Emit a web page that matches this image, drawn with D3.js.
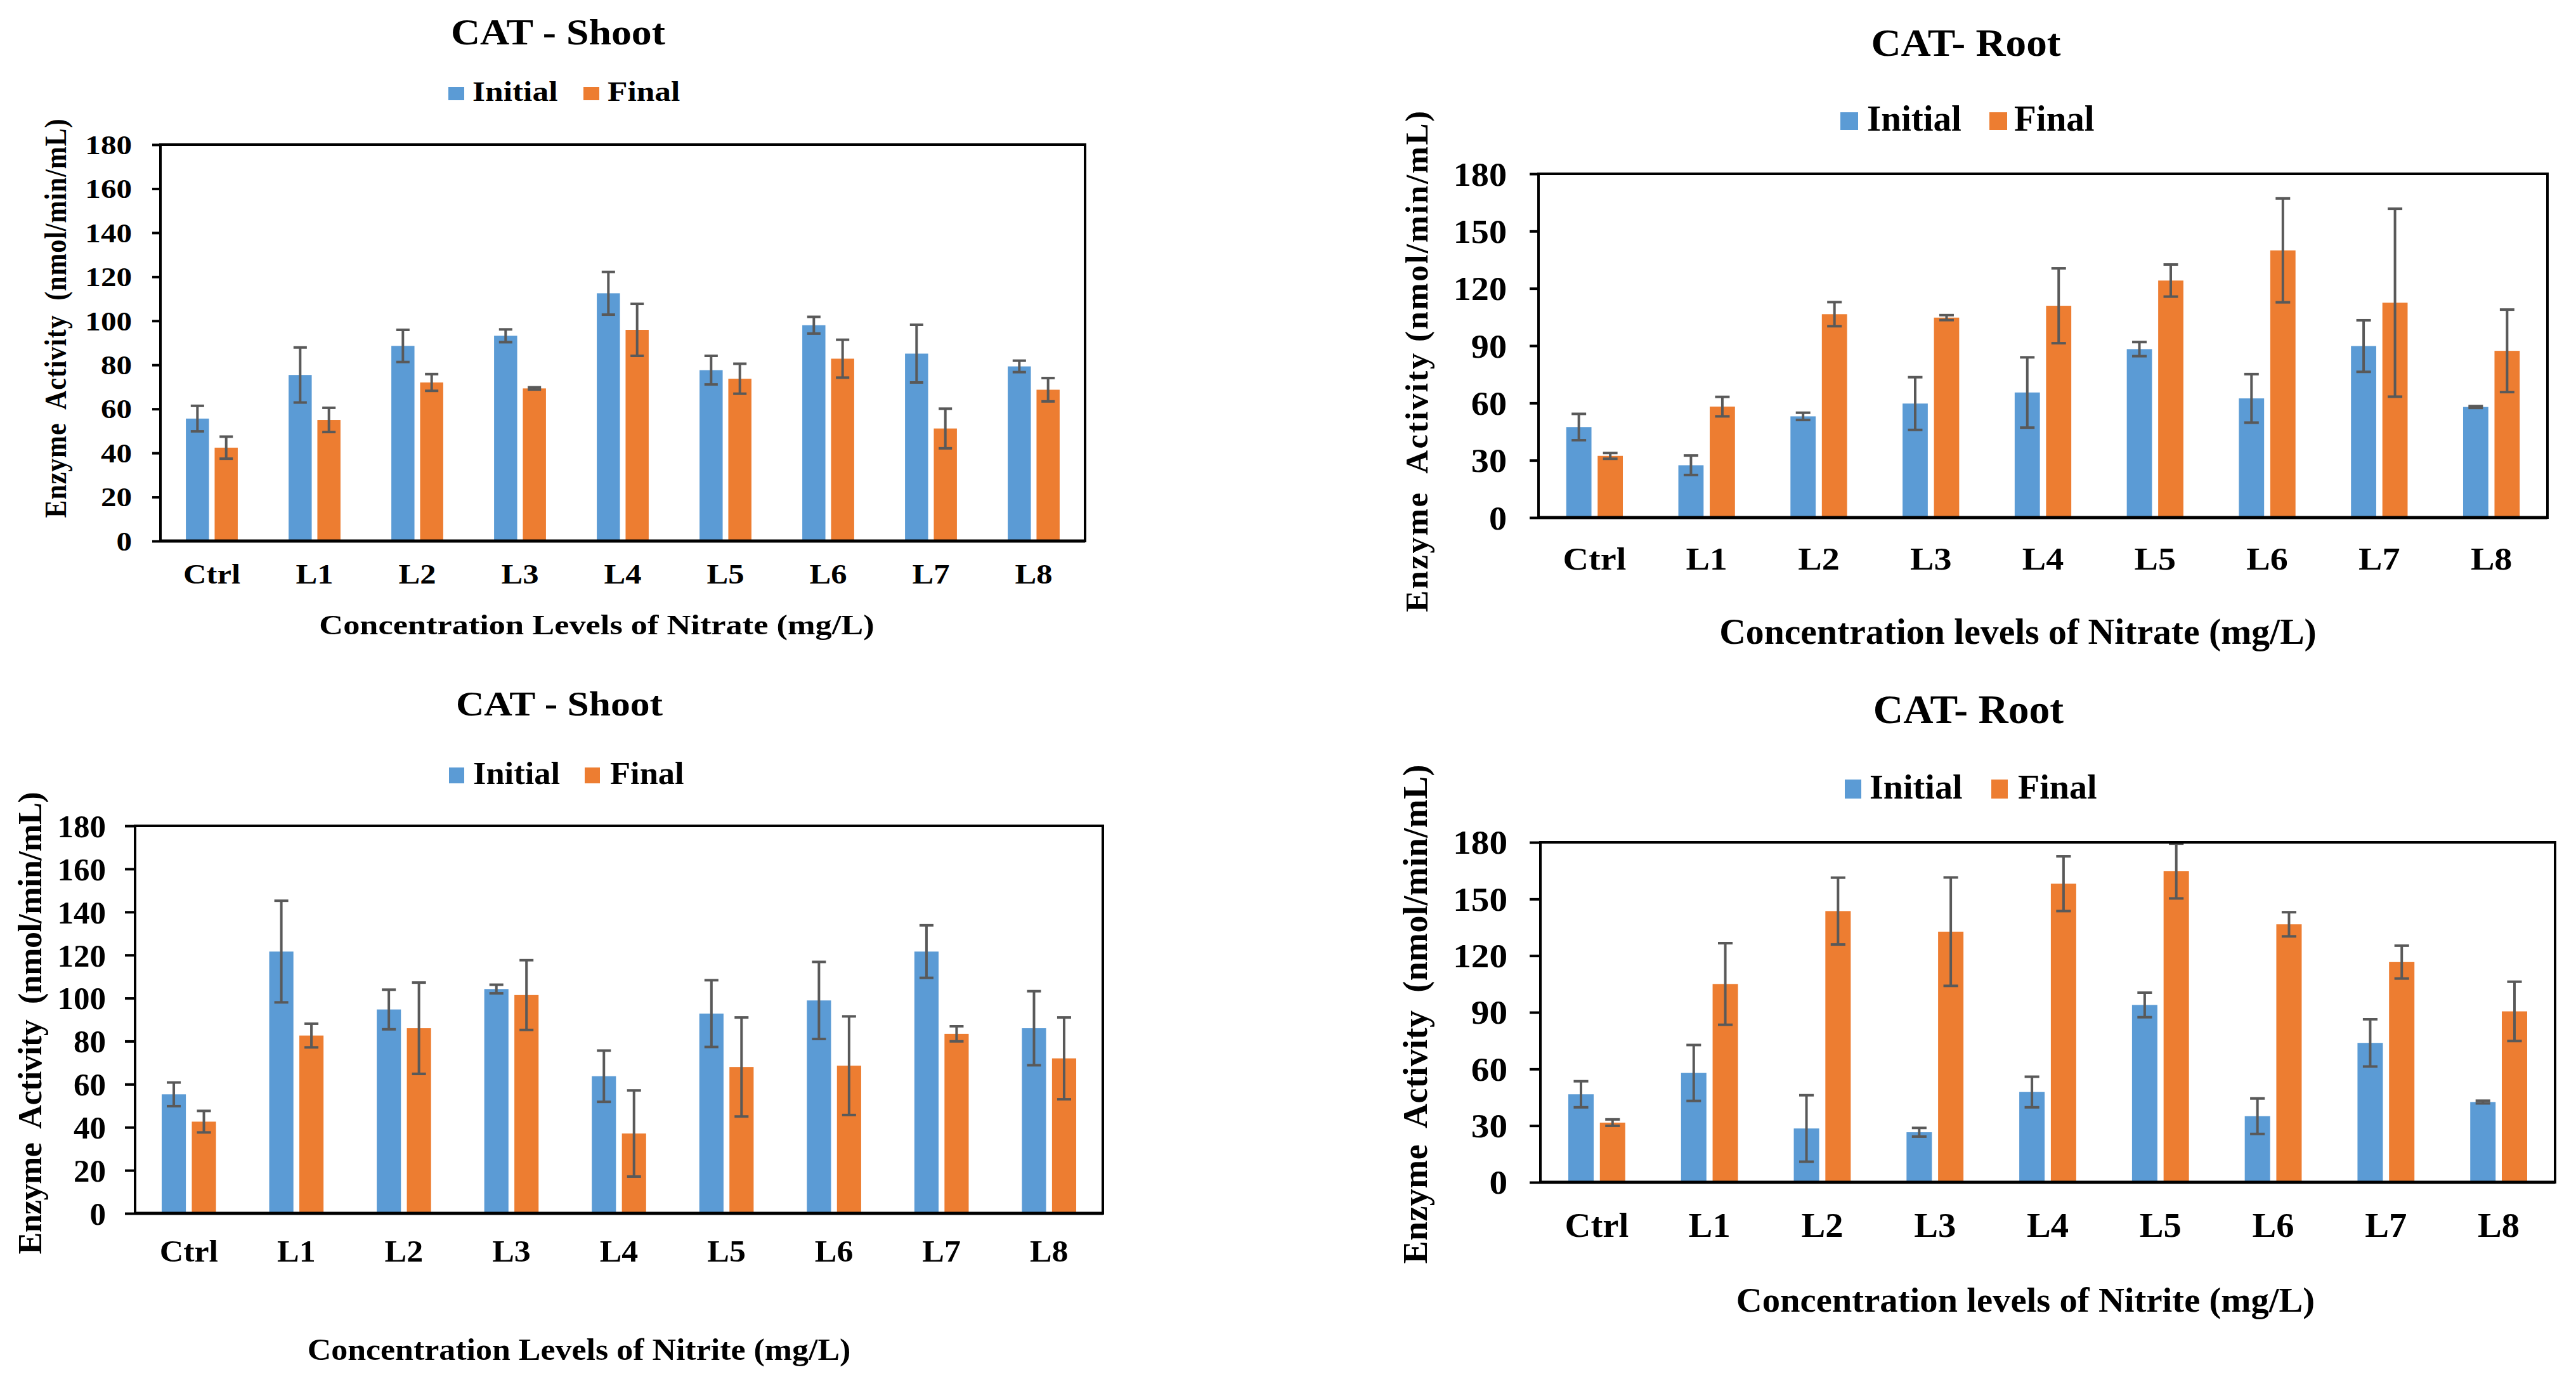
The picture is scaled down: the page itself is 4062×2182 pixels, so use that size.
<!DOCTYPE html>
<html>
<head>
<meta charset="utf-8">
<script src="https://cdn.jsdelivr.net/npm/d3@7"></script>
<style>
  body { margin: 0; background: #fff; }
  text { font-family: "Liberation Serif", "Times New Roman", serif; font-weight: bold; fill: #000; white-space: pre; }
</style>
</head>
<body>
<svg id="chart" width="4062" height="2182"></svg>
<script>
// categories and tick labels
const categories = ["Ctrl", "L1", "L2", "L3", "L4", "L5", "L6", "L7", "L8"];
const shootTicks = [0, 20, 40, 60, 80, 100, 120, 140, 160, 180];
const rootTicks = [0, 30, 60, 90, 120, 150, 180];
const seriesNames = ["Initial", "Final"];

// CAT shoot, nitrate
const nitrateShootInitial = [55.6, 75.4, 88.6, 93.2, 112.5, 77.6, 98.0, 85.1, 79.3];
const nitrateShootInitialErr = [5.8, 12.5, 7.3, 2.9, 9.7, 6.5, 3.8, 13.1, 2.6];
const nitrateShootFinal = [42.4, 55.0, 72.0, 69.3, 95.9, 73.7, 82.8, 51.1, 68.7];
const nitrateShootFinalErr = [5.0, 5.5, 3.8, 0.5, 11.8, 6.8, 8.6, 9.0, 5.3];

// CAT root, nitrate
const nitrateRootInitial = [47.4, 27.4, 53.0, 59.7, 65.5, 88.2, 62.4, 89.8, 57.9];
const nitrateRootInitialErr = [6.9, 5.1, 1.9, 13.8, 18.4, 3.7, 12.7, 13.5, 0.5];
const nitrateRootFinal = [32.3, 58.1, 106.5, 104.7, 110.9, 124.1, 139.9, 112.5, 87.3];
const nitrateRootFinalErr = [1.5, 5.1, 6.3, 1.3, 19.6, 8.4, 27.2, 49.2, 21.6];

// CAT shoot, nitrite
const nitriteShootInitial = [55.3, 121.6, 94.7, 104.2, 63.7, 92.8, 98.9, 121.6, 86.0];
const nitriteShootInitialErr = [5.5, 23.6, 9.2, 2.0, 11.9, 15.5, 17.9, 12.2, 17.2];
const nitriteShootFinal = [42.6, 82.6, 86.0, 101.4, 37.1, 68.0, 68.6, 83.4, 72.0];
const nitriteShootFinalErr = [5.0, 5.5, 21.2, 16.2, 20.0, 23.0, 22.9, 3.5, 19.0];

// CAT root, nitrite
const nitriteRootInitial = [46.6, 57.9, 28.5, 26.5, 47.8, 93.9, 35.0, 73.8, 42.5];
const nitriteRootInitialErr = [6.9, 14.8, 17.6, 2.3, 8.1, 6.5, 9.4, 12.5, 0.7];
const nitriteRootFinal = [31.6, 105.0, 143.6, 132.7, 158.1, 164.8, 136.6, 116.6, 90.5];
const nitriteRootFinalErr = [1.7, 21.6, 17.7, 28.7, 14.5, 14.5, 6.4, 8.7, 15.7];

const blue = "#5B9BD5", orange = "#ED7D31", errColor = "#595959";

const svg = d3.select("#chart");
svg.append("rect").attr("width", 4062).attr("height", 2182).attr("fill", "#fff");

// layout of each of the four panels (pixels)
const panels = [
  { title: "CAT - Shoot", xTitle: "Concentration Levels of Nitrate (mg/L)", yTitle: "Enzyme  Activity  (nmol/min/mL)",
    ticks: shootTicks, init: nitrateShootInitial, initErr: nitrateShootInitialErr, fin: nitrateShootFinal, finErr: nitrateShootFinalErr,
    L: 253, R: 1711, T: 228, B: 853,
    ttl: { x: 880, y: 70, size: 57, sx: 1.12 },
    leg: { y: 159, size: 44, sx: 1.17, sqY: 137, sqW: 25, sqH: 21, xs: [707, 745, 920, 958] },
    tk: { size: 42, sx: 1.17, len: 13, right: 208 },
    xl: { size: 44, sx: 1.15, y: 920 },
    xt: { size: 44, sx: 1.19, x: 941, y: 1000 },
    yt: { size: 42, sx: 1.17, x: 104, y: 502, len: 629 } },
  { title: "CAT- Root", xTitle: "Concentration levels of Nitrate (mg/L)", yTitle: "Enzyme  Activity (nmol/min/mL)",
    ticks: rootTicks, init: nitrateRootInitial, initErr: nitrateRootInitialErr, fin: nitrateRootFinal, finErr: nitrateRootFinalErr,
    L: 2426, R: 4017, T: 274, B: 816,
    ttl: { x: 3100, y: 88, size: 61, sx: 1.07 },
    leg: { y: 206, size: 57, sx: 1.0, sqY: 177, sqW: 28, sqH: 28, xs: [2902, 2944, 3137, 3176] },
    tk: { size: 53, sx: 1.06, len: 14, right: 2376 },
    xl: { size: 51, sx: 1.1, y: 898 },
    xt: { size: 56, sx: 1.03, x: 3182, y: 1015 },
    yt: { size: 51, sx: 1.0, x: 2251, y: 570, len: 790 } },
  { title: "CAT - Shoot", xTitle: "Concentration Levels of Nitrite (mg/L)", yTitle: "Enzyme  Activity  (nmol/min/mL)",
    ticks: shootTicks, init: nitriteShootInitial, initErr: nitriteShootInitialErr, fin: nitriteShootFinal, finErr: nitriteShootFinalErr,
    L: 213, R: 1739, T: 1302, B: 1913,
    ttl: { x: 882, y: 1128, size: 55, sx: 1.12 },
    leg: { y: 1236, size: 50, sx: 1.05, sqY: 1210, sqW: 24, sqH: 25, xs: [708, 746, 922, 962] },
    tk: { size: 51, sx: 1.0, len: 16, right: 167 },
    xl: { size: 49, sx: 1.06, y: 1989 },
    xt: { size: 49, sx: 1.06, x: 913, y: 2144 },
    yt: { size: 52, sx: 1.0, x: 65, y: 1613, len: 729 } },
  { title: "CAT- Root", xTitle: "Concentration levels of Nitrite (mg/L)", yTitle: "Enzyme  Activity  (nmol/min/mL)",
    ticks: rootTicks, init: nitriteRootInitial, initErr: nitriteRootInitialErr, fin: nitriteRootFinal, finErr: nitriteRootFinalErr,
    L: 2429, R: 4029, T: 1328, B: 1864,
    ttl: { x: 3104, y: 1140, size: 63, sx: 1.04 },
    leg: { y: 1259, size: 55, sx: 1.02, sqY: 1229, sqW: 26, sqH: 30, xs: [2909, 2948, 3140, 3182] },
    tk: { size: 52, sx: 1.1, len: 17, right: 2377 },
    xl: { size: 55, sx: 1.03, y: 1950 },
    xt: { size: 55, sx: 1.03, x: 3194, y: 2068 },
    yt: { size: 54, sx: 1.0, x: 2250, y: 1599, len: 787 } }
];

// text with a horizontal stretch, as the picture's text is slightly widened
function label(g, s, x, y, size, sx, anchor) {
  return g.append("text")
    .attr("transform", `translate(${x},${y}) scale(${sx},1)`)
    .attr("text-anchor", anchor)
    .style("font-size", size + "px")
    .text(s);
}

function drawPanel(p) {
  const g = svg.append("g");

  const x = d3.scaleBand().domain(categories).range([p.L, p.R]);
  const y = d3.scaleLinear().domain([0, 180]).range([p.B, p.T]);
  const step = x.bandwidth();
  const barW = step * 0.225, gap = step * 0.055;

  const series = [
    { vals: p.init, err: p.initErr, color: blue, off: -gap / 2 - barW },
    { vals: p.fin, err: p.finErr, color: orange, off: gap / 2 }
  ];

  // bars
  series.forEach(s => {
    g.append("g").selectAll("rect").data(categories).join("rect")
      .attr("x", d => x(d) + step / 2 + s.off)
      .attr("y", (d, i) => y(s.vals[i]))
      .attr("width", barW)
      .attr("height", (d, i) => y(0) - y(s.vals[i]))
      .attr("fill", s.color);
  });

  // error bars
  const capW = step * 0.13;
  series.forEach(s => {
    const eg = g.append("g").attr("stroke", errColor).attr("stroke-width", 4).attr("fill", "none");
    categories.forEach((c, i) => {
      const cx = x(c) + step / 2 + s.off + barW / 2;
      const hi = y(s.vals[i] + s.err[i]), lo = y(s.vals[i] - s.err[i]);
      eg.append("line").attr("x1", cx).attr("x2", cx).attr("y1", hi).attr("y2", lo);
      eg.append("line").attr("x1", cx - capW / 2).attr("x2", cx + capW / 2).attr("y1", hi).attr("y2", hi);
      eg.append("line").attr("x1", cx - capW / 2).attr("x2", cx + capW / 2).attr("y1", lo).attr("y2", lo);
    });
  });

  // plot frame
  g.append("rect").attr("x", p.L).attr("y", p.T).attr("width", p.R - p.L).attr("height", p.B - p.T)
    .attr("fill", "none").attr("stroke", "#000").attr("stroke-width", 4);
  g.append("line").attr("x1", p.L).attr("x2", p.R).attr("y1", p.B).attr("y2", p.B)
    .attr("stroke", "#000").attr("stroke-width", 5);

  // y axis
  const ya = g.append("g").attr("transform", `translate(${p.L},0)`)
    .call(d3.axisLeft(y).tickValues(p.ticks).tickSize(p.tk.len).tickSizeOuter(0));
  ya.select(".domain").remove();
  ya.selectAll(".tick line").attr("stroke", "#000").attr("stroke-width", 4);
  ya.selectAll(".tick text")
    .attr("x", 0).attr("dy", "0.34em")
    .attr("transform", `translate(${p.tk.right - p.L},0) scale(${p.tk.sx},1)`)
    .style("font-size", p.tk.size + "px");

  // x axis
  const xa = g.append("g").attr("transform", `translate(0,${p.B})`)
    .call(d3.axisBottom(x).tickSize(0).tickSizeOuter(0));
  xa.select(".domain").remove();
  xa.selectAll(".tick text")
    .attr("y", 0).attr("dy", 0)
    .attr("transform", `translate(0,${p.xl.y - p.B}) scale(${p.xl.sx},1)`)
    .style("font-size", p.xl.size + "px");

  // titles
  label(g, p.title, p.ttl.x, p.ttl.y, p.ttl.size, p.ttl.sx, "middle");
  label(g, p.xTitle, p.xt.x, p.xt.y, p.xt.size, p.xt.sx, "middle");
  g.append("text")
    .attr("transform", `translate(${p.yt.x},${p.yt.y}) rotate(-90) scale(1,${p.yt.sx})`)
    .attr("text-anchor", "middle")
    .attr("textLength", p.yt.len).attr("lengthAdjust", "spacing")
    .style("font-size", p.yt.size + "px")
    .text(p.yTitle);

  // legend
  const lg = p.leg;
  [blue, orange].forEach((col, k) => {
    g.append("rect").attr("x", lg.xs[k * 2]).attr("y", lg.sqY).attr("width", lg.sqW).attr("height", lg.sqH).attr("fill", col);
    label(g, seriesNames[k], lg.xs[k * 2 + 1], lg.y, lg.size, lg.sx, "start");
  });
}

panels.forEach(drawPanel);
</script>
</body>
</html>
